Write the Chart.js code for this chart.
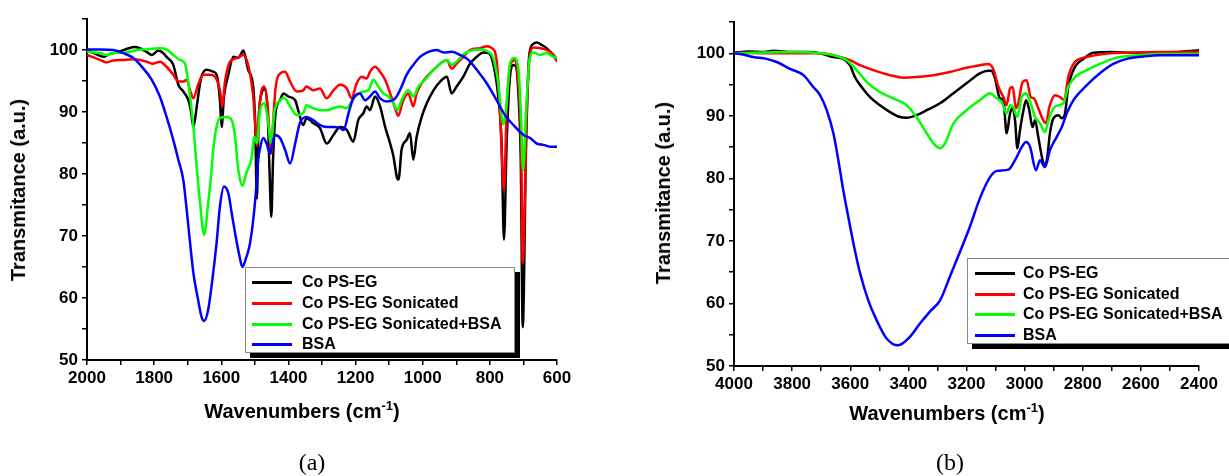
<!DOCTYPE html>
<html>
<head>
<meta charset="utf-8">
<script src="https://cdn.jsdelivr.net/npm/chart.js@4.4.1/dist/chart.umd.min.js"></script>
<style>
  html, body { margin:0; padding:0; background:#fff; width:1229px; height:476px; overflow:hidden; }
  canvas { position:absolute; top:0; }
  .t { position:absolute; font-family:"Liberation Sans", Arial, sans-serif; font-weight:bold; color:#000; white-space:nowrap; line-height:1; }
  .xt { font-size:20px; transform:translateX(-50%); }
  .yt { font-size:20px; transform:translate(-50%,-50%) rotate(-90deg); }
  .xt sup { font-size:13px; position:relative; top:-2px; vertical-align:top; }
  .cap { position:absolute; font-family:"Liberation Serif", "Times New Roman", serif; font-size:24px; color:#000; transform:translateX(-50%); line-height:1; }
  .leg { position:absolute; background:#fff; border:1px solid #8a8a8a; box-shadow:5px 5px 0 #000; box-sizing:border-box; }
  .leg .ln { position:absolute; height:3px; width:40px; }
  .leg .lt { position:absolute; font-family:"Liberation Sans", Arial, sans-serif; font-weight:bold; font-size:16px; line-height:1; white-space:nowrap; transform:translateY(-50%); }
</style>
</head>
<body>
<canvas id="ca" width="614" height="476" style="left:0px"></canvas>
<canvas id="cb" width="615" height="476" style="left:614px"></canvas>

<div class="t yt" style="left:18px; top:190px;">Transmitance (a.u.)</div>
<div class="t yt" style="left:663px; top:193px;">Transmitance (a.u.)</div>
<div class="t xt" style="left:302px; top:401px;">Wavenumbers (cm<sup>-1</sup>)</div>
<div class="t xt" style="left:947px; top:403px;">Wavenumbers (cm<sup>-1</sup>)</div>
<div class="cap" style="left:312px; top:450px;">(a)</div>
<div class="cap" style="left:950px; top:450px;">(b)</div>

<div id="legA" class="leg" style="left:245px; top:267px; width:270px; height:86px;"></div>
<div id="legB" class="leg" style="left:967px; top:258px; width:290px; height:86px;"></div>

<script>
// ---------- labels ----------
const seriesNames = ["Co PS-EG", "Co PS-EG Sonicated", "Co PS-EG Sonicated+BSA", "BSA"];
const seriesColors = ["#000000", "#ff0000", "#00ff00", "#0000ff"];

// ---------- panel (a): 2000-600 cm-1 ----------
const aBlackX = [2000,1980,1951,1935,1922,1900,1880,1857,1840,1822,1807,1788,1775,1763,1743,1728,1713,1698,1690,1683,1673,1665,1659,1644,1624,1614,1604,1599,1592,1579,1564,1549,1540,1534,1520,1505,1499,1494,1489,1480,1470,1462,1456,1451,1446,1438,1425,1415,1400,1380,1371,1356,1346,1336,1326,1306,1286,1266,1246,1226,1207,1192,1177,1167,1157,1142,1127,1112,1097,1087,1077,1072,1063,1048,1038,1028,1018,1003,988,968,948,928,914,899,879,859,839,819,804,790,775,765,758,750,740,730,722,715,708,702,692,682,670,660,645,631,616,603,600];
const aBlackY = [100,99.5,98.9,99.3,99.5,99.8,100.2,100.5,100.2,99.7,99.2,99.9,99.6,98.9,97.6,94.4,93.3,91.9,90,87.6,90.9,94,95.7,96.8,96.5,96,91.9,87.6,92.5,96,98.9,98.7,99.5,99.9,96.8,94.1,88,76,88,93,93.8,90,80,73.1,82,90,91.9,93,92.5,91.9,90.3,87.9,89,88.7,88.2,87.4,84.9,86.3,87.6,87.1,85.2,88.7,89.8,90.9,90.3,92.5,90.9,87.6,84.9,82.8,79.5,79.1,83.9,85.5,86.6,82.3,86,89.2,91.4,93.5,94.9,95.7,93,94.1,95.7,97.8,98.9,99.6,99.5,97.8,92.5,84.9,69.4,85,95.7,97.6,97.3,93,82.3,55.3,85,99.5,101,101.2,100.8,100.3,99.5,98.7,98.5];

const aRedX = [2000,1980,1961,1942,1922,1892,1862,1842,1822,1803,1783,1763,1743,1728,1713,1703,1693,1683,1669,1654,1634,1619,1604,1597,1589,1574,1554,1534,1520,1505,1499,1494,1489,1480,1472,1462,1456,1451,1446,1438,1425,1410,1395,1375,1356,1346,1336,1326,1306,1286,1266,1246,1226,1212,1197,1182,1167,1157,1142,1127,1112,1097,1082,1073,1058,1043,1028,1018,1003,988,968,948,928,914,899,879,859,829,809,794,780,770,758,750,738,725,715,707,702,690,680,670,650,631,611,603,600];
const aRedY = [99.2,98.8,98.4,98,98.3,98.4,98.5,98.4,98.1,97.8,98.1,97.3,96,94.9,94.9,95.2,93.5,92.2,94.4,96,96,95.7,93.5,90.9,94.9,98.1,98.7,99.2,97.6,92.5,88,84.5,89,93.5,94.1,91,86,83.3,88,94,96.2,96.5,94.9,93.3,93.5,94.1,93.8,93.5,93.8,92.2,93.5,94.4,93.8,92.2,94.6,95.7,95.4,96.5,97.3,96.5,95.2,93,90.6,89.4,91.9,93,90.9,93,94.6,95.7,96.8,97.8,98.4,97,97.8,98.9,100,100.3,100.6,100.3,98.4,90.3,77.4,90.3,97.8,98.4,94.6,84.9,65.6,90.3,99.5,100.4,100.3,100,99.2,98.4,98.2];

const aGreenX = [2000,1961,1942,1922,1882,1852,1822,1783,1763,1743,1723,1708,1698,1683,1673,1664,1651,1639,1629,1624,1614,1604,1584,1569,1559,1549,1537,1525,1510,1502,1494,1485,1472,1462,1452,1442,1425,1412,1395,1375,1356,1346,1326,1306,1286,1266,1246,1226,1212,1197,1177,1162,1147,1132,1117,1102,1087,1075,1063,1043,1028,1013,993,973,948,928,914,894,874,849,824,804,790,775,767,760,752,740,728,715,707,701,692,682,670,650,631,611,601];
const aGreenY = [99.7,99.5,99.2,99.5,99.6,100,100.1,100.3,100.1,99.2,98.4,97.8,94.6,87.6,81,75.8,70.2,75.3,80.6,83.9,87.6,89,89.2,88.7,86,80.6,78.1,80.2,82.5,86,85,90,91.4,89,85,90,91.9,92.2,90.9,89.5,89.8,91.1,90.6,90.3,90.3,90.6,90.9,90.6,91.7,92.7,93.3,93.5,95.2,94.1,93,92.5,91.4,90.3,91.9,93.5,92.5,94.1,95.2,96.5,97.8,98.4,97.6,98.4,99.5,100,100.1,99.7,98.7,94.6,90.3,88,90.3,97.8,98.7,97,89.2,80.6,90.3,98.4,99.6,99.2,99.5,98.9,98.7];

const aBlueX = [2000,1961,1922,1892,1862,1832,1807,1783,1763,1743,1728,1713,1703,1693,1683,1669,1659,1651,1639,1629,1614,1604,1592,1579,1569,1559,1546,1537,1527,1516,1507,1497,1490,1485,1475,1465,1455,1440,1425,1410,1395,1380,1366,1346,1326,1306,1286,1266,1246,1236,1221,1207,1187,1172,1157,1142,1127,1107,1082,1068,1048,1028,1008,983,958,938,914,889,864,839,809,780,755,730,700,680,660,640,621,601];
const aBlueY = [100.1,100.1,100,99.5,98.7,97,95.2,92.5,89.2,85.5,82.3,79,74.2,68.9,64,59.7,57,56.3,58.1,61.9,68.9,74.8,78,76.9,73.7,70.5,66.8,65,66.3,68.4,71.6,77,82.3,84,85.8,84.9,83.3,86.3,85.8,83.9,81.7,84.9,88.2,89.2,88.7,87.9,87.6,87.6,87.4,87.1,89.8,92.2,93,91.9,92.5,93.3,92.2,91.7,92.2,93.5,96,97.6,98.9,99.7,100,99.6,99.7,99.2,98.4,96.8,94.6,91.9,89.5,87.9,86.3,85.8,84.9,84.7,84.4,84.4];

// ---------- panel (b): 4000-2400 cm-1 ----------
const bBlackX = [4000,3950,3900,3865,3800,3750,3704,3658,3624,3601,3584,3561,3532,3498,3463,3429,3406,3372,3337,3291,3245,3200,3154,3125,3115,3102,3085,3073,3062,3050,3041,3033,3025,3016,3004,2995,2984,2973,2964,2953,2938,2930,2922,2913,2901,2884,2872,2861,2850,2827,2798,2764,2706,2649,2534,2400];
const bBlackY = [100.1,100.3,100.2,100.4,100.2,100.2,100,99.4,99.1,98.1,96.2,94.6,93,91.7,90.6,89.8,89.7,90.1,90.9,92,93.6,95.2,96.8,97.2,97.2,96,92.8,92.5,87.2,90.4,91.2,89.3,84.8,87.7,90.9,92.5,90.9,88.2,89.3,86.6,82.9,82.1,83.4,87.2,89.6,90.1,89.6,90.4,94.6,97.8,99.1,100.1,100.2,100.1,100.1,100.5];

const bRedX = [4000,3800,3700,3635,3601,3566,3521,3463,3417,3372,3314,3257,3200,3154,3125,3108,3090,3073,3062,3050,3041,3030,3022,3007,2993,2979,2968,2953,2936,2926,2915,2895,2878,2864,2850,2827,2786,2729,2649,2534,2400];
const bRedY = [100.1,100,100,99.4,98.9,98.1,97.3,96.5,96.1,96.2,96.5,97,97.7,98.1,98.3,97.5,94.6,93,91.7,94.4,94.6,91.2,92,95.4,95.7,93,92.8,91.2,89.3,88.8,91.4,93.3,93,92.5,96.2,98.6,99.4,99.9,100.1,100.2,100.2];

const bGreenX = [4000,3800,3700,3658,3612,3578,3543,3498,3452,3406,3372,3337,3308,3291,3274,3245,3200,3154,3119,3096,3079,3062,3050,3039,3025,3010,2995,2979,2964,2947,2930,2918,2901,2884,2867,2850,2827,2786,2741,2683,2614,2534,2400];
const bGreenY = [100,100.2,100,99.7,98.9,97.3,95.4,93.8,92.8,91.7,89.8,87.2,85.3,84.8,85.6,88.8,90.9,92.5,93.6,92.8,92.2,90.4,91.7,91.4,89.8,93,93.6,92,89.8,88.8,87.4,89.3,91.2,91.7,92,94.6,96.2,97.3,98.3,99.3,99.7,99.9,99.9];

const bBlueX = [4000,3979,3934,3888,3853,3807,3761,3727,3704,3681,3658,3641,3624,3607,3589,3566,3538,3509,3475,3435,3394,3360,3326,3291,3257,3222,3188,3154,3119,3096,3056,3033,3010,2995,2981,2961,2947,2930,2913,2890,2872,2855,2832,2786,2741,2695,2649,2591,2534,2477,2400];
const bBlueY = [100,99.9,99.4,99.1,98.6,97.5,96.5,94.6,93.3,90.9,87.2,82.9,78.1,73.9,69.6,64.8,60.5,57.3,54.4,53.3,54.7,56.8,58.7,60.5,64.3,68.3,72.3,76.8,80.2,81.2,81.4,82.9,85,85.8,85,81.3,82.9,81.8,84.5,86.6,88.2,90.4,92.5,94.9,96.8,98.3,99.1,99.5,99.7,99.7,99.7];

// ---------- axis ticks ----------
const yMin = 50, yMax = 105, yStep = 5, yLabelEvery = 10;
const aXMin = 600, aXMax = 2000, bXMin = 2400, bXMax = 4000, xStep = 100, xLabelEvery = 200;

function pts(xs, ys) { return xs.map((x, i) => ({ x: x, y: ys[i] })); }

function makeDatasets(series) {
  return series.map((s, i) => ({
    label: seriesNames[i],
    data: pts(s[0], s[1]),
    borderColor: seriesColors[i],
    backgroundColor: seriesColors[i],
    borderWidth: 2.5,
    pointRadius: 0,
    fill: false,
    cubicInterpolationMode: 'monotone',
    order: 4 - i
  }));
}

const tickFont = { family: "'Liberation Sans', Arial, sans-serif", size: 17, weight: 'bold' };

function makeChart(id, series, xMin, xMax, yAxisW, xAxisH, padTop, padRight) {
  return new Chart(document.getElementById(id), {
    type: 'line',
    data: { datasets: makeDatasets(series) },
    options: {
      responsive: false,
      animation: false,
      devicePixelRatio: 1,
      layout: { padding: { left: 0, right: padRight, top: padTop, bottom: 0 } },
      plugins: { legend: { display: false }, tooltip: { enabled: false } },
      elements: { line: { borderCapStyle: 'round', borderJoinStyle: 'round' } },
      scales: {
        x: {
          type: 'linear', reverse: true, min: xMin, max: xMax,
          border: { display: true, color: '#000', width: 2 },
          grid: { drawOnChartArea: false, drawTicks: true, tickLength: 5, color: '#000', lineWidth: 1.5 },
          ticks: {
            stepSize: xStep, autoSkip: false, maxRotation: 0, color: '#000', font: tickFont, padding: 3,
            callback: v => (v % xLabelEvery === 0 ? String(v) : '')
          },
          afterFit: s => { s.height = xAxisH; }
        },
        y: {
          type: 'linear', min: yMin, max: yMax,
          border: { display: true, color: '#000', width: 2 },
          grid: { drawOnChartArea: false, drawTicks: true, tickLength: 5, color: '#000', lineWidth: 1.5 },
          ticks: {
            stepSize: yStep, autoSkip: false, color: '#000', font: tickFont, padding: 4,
            callback: v => (v % yLabelEvery === 0 ? String(v) : '')
          },
          afterFit: s => { s.width = yAxisW; }
        }
      }
    }
  });
}

makeChart('ca', [[aBlackX, aBlackY], [aRedX, aRedY], [aGreenX, aGreenY], [aBlueX, aBlueY]],
  aXMin, aXMax, 87, 116, 19, 57);
makeChart('cb', [[bBlackX, bBlackY], [bRedX, bRedY], [bGreenX, bGreenY], [bBlueX, bBlueY]],
  bXMin, bXMax, 120, 110, 22, 30);

// ---------- legends ----------
function buildLegend(id, lineLeft, textLeft, rows) {
  const el = document.getElementById(id);
  seriesNames.forEach((name, i) => {
    const ln = document.createElement('div');
    ln.className = 'ln';
    ln.style.left = lineLeft + 'px';
    ln.style.top = (rows[i] - 1.5) + 'px';
    ln.style.background = seriesColors[i];
    el.appendChild(ln);
    const t = document.createElement('div');
    t.className = 'lt';
    t.style.left = textLeft + 'px';
    t.style.top = rows[i] + 'px';
    t.textContent = name;
    el.appendChild(t);
  });
}
buildLegend('legA', 6, 56, [14, 35, 56, 76]);
buildLegend('legB', 7, 55, [14, 35, 55, 76]);
</script>
</body>
</html>
